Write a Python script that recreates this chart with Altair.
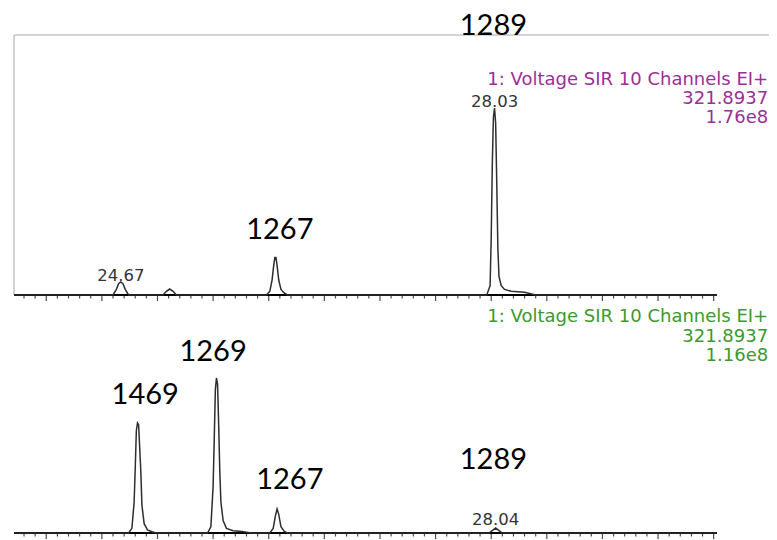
import altair as alt
import pandas as pd

# ---------------- data ----------------
time_lo, time_hi = 23.71, 30.03

# top trace (relative intensity, %)
top_t = [23.71, 24.60, 24.63, 24.65, 24.67, 24.69, 24.71, 24.74,
         25.05, 25.08, 25.11, 25.14, 25.17,
         25.98, 26.01, 26.03, 26.045, 26.055, 26.065, 26.075, 26.09, 26.11, 26.14, 26.17,
         27.96, 27.99, 28.00, 28.01, 28.02, 28.03, 28.04, 28.05, 28.06, 28.07, 28.09,
         28.12, 28.18, 28.30, 28.40, 30.03]
top_i = [0, 0, 3, 6, 7, 6, 3, 0,
         0, 2, 3.2, 2, 0,
         0, 2, 8, 16, 20, 20, 16, 8, 3, 1, 0,
         0, 5, 30, 70, 95, 100, 92, 60, 25, 10, 5,
         3, 2, 1.5, 0, 0]

# bottom trace (relative intensity, %)
bot_t = [23.71, 24.74, 24.77, 24.79, 24.80, 24.81, 24.82, 24.83, 24.84, 24.85, 24.86,
         24.88, 24.91, 24.95, 24.99,
         25.45, 25.48, 25.50, 25.51, 25.52, 25.53, 25.54, 25.55, 25.56, 25.57, 25.59,
         25.62, 25.68, 25.76, 25.84,
         26.01, 26.04, 26.06, 26.075, 26.09, 26.11, 26.14, 26.17,
         27.98, 28.04, 28.10, 30.03]
bot_i = [0, 0, 3, 20, 42, 66, 71, 70, 55, 40, 18,
         6, 2, 0.8, 0,
         0, 4, 30, 60, 92, 100, 96, 70, 40, 20, 8,
         3, 1.5, 1, 0,
         0, 3, 11, 15.5, 12, 4, 1, 0,
         0, 3.2, 0, 0]

# retention-time labels on peaks
top_peak_t = [24.67, 28.03]
top_peak_i = [7, 100]
top_peak_txt = ["24.67", "28.03"]
bot_peak_t = [28.04]
bot_peak_i = [3.2]
bot_peak_txt = ["28.04"]

# compound annotations
top_ann_txt = ["1289", "1267"]
top_ann_t = [28.02, 26.10]
top_ann_i = [143.85, 34.8]
bot_ann_txt = ["1469", "1269", "1267", "1289"]
bot_ann_t = [24.89, 25.50, 26.19, 28.02]
bot_ann_i = [89.0, 116.8, 34.2, 47.1]

# trace headers
hdr_lines_top = ["1: Voltage SIR 10 Channels EI+", "321.8937", "1.76e8"]
hdr_lines_bot = ["1: Voltage SIR 10 Channels EI+", "321.8937", "1.16e8"]
hdr_i_top = [115.0, 104.8, 94.7]
hdr_i_bot = [139.4, 126.5, 114.2]
hdr_t = 30.49

# axis ticks (minutes)
tick_values = [round(23.8 + 0.1 * k, 1) for k in range(63)]

# ---------------- frames ----------------
top_df = pd.DataFrame({"t": top_t, "v": top_i})
bot_df = pd.DataFrame({"t": bot_t, "v": bot_i})
ticks_df = pd.DataFrame({"t": tick_values})
ticks_df["major"] = [abs(v * 2 - round(v * 2)) < 1e-6 for v in tick_values]
major_df = ticks_df[ticks_df["major"]]
minor_df = ticks_df[~ticks_df["major"]]

W, H = 703, 525
TOP_ZERO = 287  # pixel of top baseline within plot

X = alt.X("t:Q", scale=alt.Scale(domain=[time_lo, time_hi], nice=False, zero=False), axis=None)
Ytop = alt.Y("v:Q", scale=alt.Scale(domain=[-127.27, 153.48], nice=False, zero=False), axis=None)
Ybot = alt.Y("v:Q", scale=alt.Scale(domain=[0, 338.71], nice=False, zero=False), axis=None)

purple = "#9b2f98"
green = "#3c9a2e"
label_font = "DejaVu Sans"

# frame lines (top panel)
frame_top = alt.Chart(pd.DataFrame({"k": [0]})).mark_rule(color="#c4c4c4", strokeWidth=1.5).encode(
    x=alt.value(0), x2=alt.value(755), y=alt.value(27))
frame_left = alt.Chart(pd.DataFrame({"k": [0]})).mark_rule(color="#c4c4c4", strokeWidth=1.5).encode(
    x=alt.value(0), y=alt.value(27), y2=alt.value(TOP_ZERO))

def axis_layers(y0):
    dom = alt.Chart(pd.DataFrame({"k": [0]})).mark_rule(color="black", strokeWidth=2).encode(
        x=alt.value(0), x2=alt.value(W), y=alt.value(y0))
    maj = alt.Chart(major_df).mark_tick(orient="vertical", color="black", thickness=1.2, size=6).encode(
        x=X, y=alt.value(y0 + 3))
    mnr = alt.Chart(minor_df).mark_tick(orient="vertical", color="black", thickness=1.2, size=3.5).encode(
        x=X, y=alt.value(y0 + 1.75))
    return [dom, maj, mnr]

top_line = alt.Chart(top_df).mark_line(color="#2e2e2e", strokeWidth=1.5).encode(x=X, y=Ytop)
bot_line = alt.Chart(bot_df).mark_line(color="#2e2e2e", strokeWidth=1.5).encode(x=X, y=Ybot)

top_peaks = alt.Chart(pd.DataFrame({"t": top_peak_t, "v": top_peak_i, "s": top_peak_txt})).mark_text(
    font=label_font, fontSize=16.5, color="#333333", baseline="alphabetic", dy=-1).encode(x=X, y=Ytop, text="s:N")
bot_peaks = alt.Chart(pd.DataFrame({"t": bot_peak_t, "v": bot_peak_i, "s": bot_peak_txt})).mark_text(
    font=label_font, fontSize=16.5, color="#333333", baseline="alphabetic", dy=-3).encode(x=X, y=Ybot, text="s:N")

top_ann = alt.Chart(pd.DataFrame({"t": top_ann_t, "v": top_ann_i, "s": top_ann_txt})).mark_text(
    font="Lato", fontSize=29, color="black", baseline="middle").encode(x=X, y=Ytop, text="s:N")
bot_ann = alt.Chart(pd.DataFrame({"t": bot_ann_t, "v": bot_ann_i, "s": bot_ann_txt})).mark_text(
    font="Lato", fontSize=29, color="black", baseline="middle").encode(x=X, y=Ybot, text="s:N")

top_hdr = alt.Chart(pd.DataFrame({"t": [hdr_t] * 3, "v": hdr_i_top, "s": hdr_lines_top})).mark_text(
    font=label_font, fontSize=18, color=purple, align="right", baseline="middle").encode(x=X, y=Ytop, text="s:N")
bot_hdr = alt.Chart(pd.DataFrame({"t": [hdr_t] * 3, "v": hdr_i_bot, "s": hdr_lines_bot})).mark_text(
    font=label_font, fontSize=18, color=green, align="right", baseline="middle").encode(x=X, y=Ybot, text="s:N")

layers = [frame_top, frame_left] + axis_layers(TOP_ZERO) + axis_layers(H) + [
    top_line, bot_line, top_peaks, bot_peaks, top_ann, bot_ann, top_hdr, bot_hdr]

chart = alt.layer(*layers).resolve_scale(y="independent").properties(
    width=W, height=H,
    autosize=alt.AutoSizeParams(type="none"),
    padding={"left": 6, "top": 0, "right": 52, "bottom": 7},
).configure_view(stroke=None)

chart.save("out.html", embed_options={"renderer": "svg", "actions": False})
